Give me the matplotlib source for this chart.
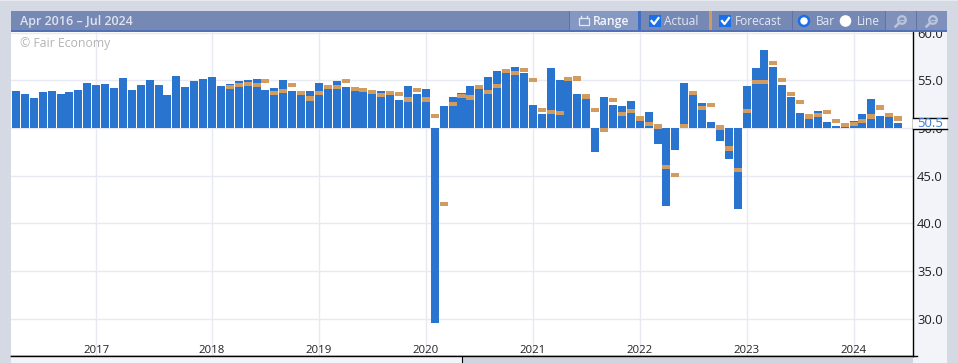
import matplotlib
matplotlib.use("Agg")
import matplotlib.pyplot as plt
from matplotlib.patches import Rectangle, Circle

plt.rcParams['font.family'] = ['Open Sans', 'DejaVu Sans']

actual = [53.9,53.6,53.2,53.8,53.9,53.6,53.8,54.0,54.75,54.5,54.6,54.2,55.2,54.0,54.5,55.0,54.5,53.5,55.5,54.3,
          54.9,55.1,55.4,54.4,54.6,54.9,55.0,55.1,54.0,54.2,55.0,53.9,53.9,53.9,54.75,54.1,54.9,54.3,53.9,53.8,
          53.6,53.9,53.5,52.9,54.4,53.6,54.1,29.5,52.3,53.3,53.7,54.4,54.1,55.3,56.0,55.8,56.4,55.8,52.4,51.5,
          56.3,55.0,54.9,53.6,53.1,47.5,53.3,52.4,52.3,52.8,50.8,51.7,48.35,41.85,47.7,54.75,53.5,52.65,50.65,48.65,
          46.7,41.5,54.4,56.3,58.2,56.4,54.55,53.3,51.6,51.0,51.8,50.65,50.25,50.15,50.75,51.5,53.05,51.3,51.2,50.55]
forecast = [None]*24 + [54.3,54.5,54.65,54.5,54.9,53.7,53.9,54.5,53.7,53.1,53.7,54.3,54.3,54.9,54.1,54.0,
          53.8,53.5,53.7,53.6,53.0,54.0,53.0,51.3,42.0,52.55,53.4,53.2,54.3,53.8,54.4,56.0,55.8,56.1,55.0,51.9,
          51.7,51.6,55.1,55.2,53.3,51.9,49.8,52.9,51.5,51.8,51.0,50.45,50.15,45.9,45.1,50.25,53.7,52.1,52.45,50.05,
          47.85,45.6,51.8,54.85,54.85,56.85,55.0,53.6,52.75,51.2,51.4,51.7,50.75,50.35,50.45,50.75,51.2,52.15,51.4,51.0]
year_labels = ['2017','2018','2019','2020','2021','2022','2023','2024']
year_index = [9,22,34,46,58,70,82,94]
y_ticks = [30,35,40,45,50,55,60]
baseline = 50.0
latest = 50.5

W, H = 958, 363
BG, STRIP, HEAD = '#d5d9e3', '#f3f4f9', '#7688b4'
BLUE, ORANGE = '#2874ce', '#d29b5f'
LT = '#e0e9f5'
fig = plt.figure(figsize=(W/100, H/100), dpi=100, facecolor=BG)

def rect_ax(x0, y0, x1, y1, **kw):
    return fig.add_axes([x0/W, 1-y1/H, (x1-x0)/W, (y1-y0)/H], **kw)

# backdrop below everything
bk = fig.add_axes([0, 0, 1, 1], zorder=-5)
bk.set_xlim(0, W); bk.set_ylim(H, 0); bk.axis('off')
bk.add_patch(Rectangle((913, 31), 34, 332, fc=STRIP, ec='none'))
bk.add_patch(Rectangle((0, 0), W, 1, fc='#e8eaf0', ec='none'))

# chart axes: 11..913 px, 31..356 px
ax = rect_ax(11, 31, 913, 356, zorder=1)
ax.set_facecolor('white')
px_per_i = 8.91
ax.set_xlim((11-16)/px_per_i, (913-16)/px_per_i)
px_per_u = 9.53
ax.set_ylim(50+(128.0-356)/px_per_u, 50+(128.0-31)/px_per_u)
ax.grid(True, color='#e8eaf3', lw=1.0)
ax.set_axisbelow(True)
ax.set_xticks(year_index, year_labels)
ax.set_yticks(y_ticks, [f'{v:.1f}' for v in y_ticks])
ax.yaxis.tick_right()
ax.tick_params(axis='x', length=0, pad=-8, labelsize=8.2, colors='#222222')
ax.tick_params(axis='y', length=0, pad=3, labelsize=9.4, colors='#222222')
for s in ax.spines.values():
    s.set_visible(False)
for s in ('right', 'bottom'):
    ax.spines[s].set_visible(True)
    ax.spines[s].set_color('black')
    ax.spines[s].set_linewidth(1.0)

for i, v in enumerate(actual):
    ax.bar(i, v-baseline, bottom=baseline, width=0.9, color=BLUE, lw=0, zorder=3)
for i, v in enumerate(forecast):
    if v is not None:
        ax.bar(i, 0.44, bottom=v-0.22, width=0.9, color=ORANGE, lw=0, zorder=4)

ax.text(0.0105, 0.961, '© Fair Economy', transform=ax.transAxes, fontsize=8.8, color='#b4b4b4',
        va='center', ha='left', zorder=5)

# overlay in pixel coordinates for the page furniture
ov = fig.add_axes([0, 0, 1, 1], zorder=10)
ov.set_xlim(0, W); ov.set_ylim(H, 0); ov.axis('off'); ov.patch.set_alpha(0)
def R(x0, y0, x1, y1, c, **kw):
    ov.add_patch(Rectangle((x0, y0), x1-x0, y1-y0, fc=c, ec='none', **kw))
def T(x, s, c=LT, fs=8.6, ha='left', **kw):
    ov.text(x, 21.3, s, color=c, fontsize=fs, va='center', ha=ha, **kw)

# top bar
R(11, 11, 947, 31, HEAD)
R(11, 30, 947, 31.5, '#5170b8')
T(20, 'Apr 2016 – Jul 2024', fontweight='semibold', fs=9.0, c='#dde3f0')
R(570, 11, 638, 30, '#8598c2')
R(569, 11, 570, 30, '#5f73a4')
ov.add_patch(Rectangle((579, 18), 10, 7, fc='none', ec=LT, lw=0.9))
ov.plot([581, 581], [15.5, 18], color=LT, lw=1); ov.plot([587, 587], [15.5, 18], color=LT, lw=1)
T(593, 'Range', c='#f2f6fc', fontweight='semibold', fs=8.8)
R(638, 11, 641, 30, '#3f6ec4')
for cx, txt, tx in [(655, 'Actual', 664), (725.5, 'Forecast', 735)]:
    ov.add_patch(Rectangle((cx-6, 15), 12, 12, fc='#1a6fe8', ec='none', zorder=3))
    ov.plot([cx-3.5, cx-1, cx+3.5], [21, 24, 18], color='white', lw=1.6, zorder=4)
    T(tx, txt)
R(709, 11, 712, 30, ORANGE)
for x in (792, 885, 916):
    R(x, 11, x+1, 30, '#5f73a4')
for x0, x1 in ((886, 916), (917, 947)):
    R(x0, 11, x1, 30, '#7f91bb')
ov.add_patch(Circle((804, 21), 5, fc='white', ec='#1a6fe8', lw=1.8, zorder=3))
T(816, 'Bar')
ov.add_patch(Circle((845.5, 21), 5.8, fc='white', ec='none', zorder=3))
T(857, 'Line')
for cx in (902, 933):
    ov.add_patch(Circle((cx, 20), 3.8, fc='none', ec='#b9c4de', lw=1.6))
    ov.plot([cx-3, cx-6.5], [23, 26.5], color='#b9c4de', lw=1.8)
    ov.plot([cx-2, cx+2], [20, 20], color='#b9c4de', lw=0.9)
# current-value marker on the scale
R(913.5, 117.5, 947, 128.5, 'white')
ov.plot([913, 947], [117.5, 117.5], color='black', lw=1)
ov.plot([913, 947], [128.5, 128.5], color='black', lw=1)
ov.text(917, 123.5, f'{latest:.1f}', color='#3b7fd0', fontsize=9.4, va='center', ha='left')
# bottom strip
R(11, 356.5, 462, 363, STRIP)
R(462, 356.5, 913, 363, '#d0d4df')
ov.plot([11, 917], [356.3, 356.3], color='black', lw=1)
ov.plot([462.5, 462.5], [356, 363], color='black', lw=0.8)

fig.savefig('out.png', dpi=100, facecolor=BG)
